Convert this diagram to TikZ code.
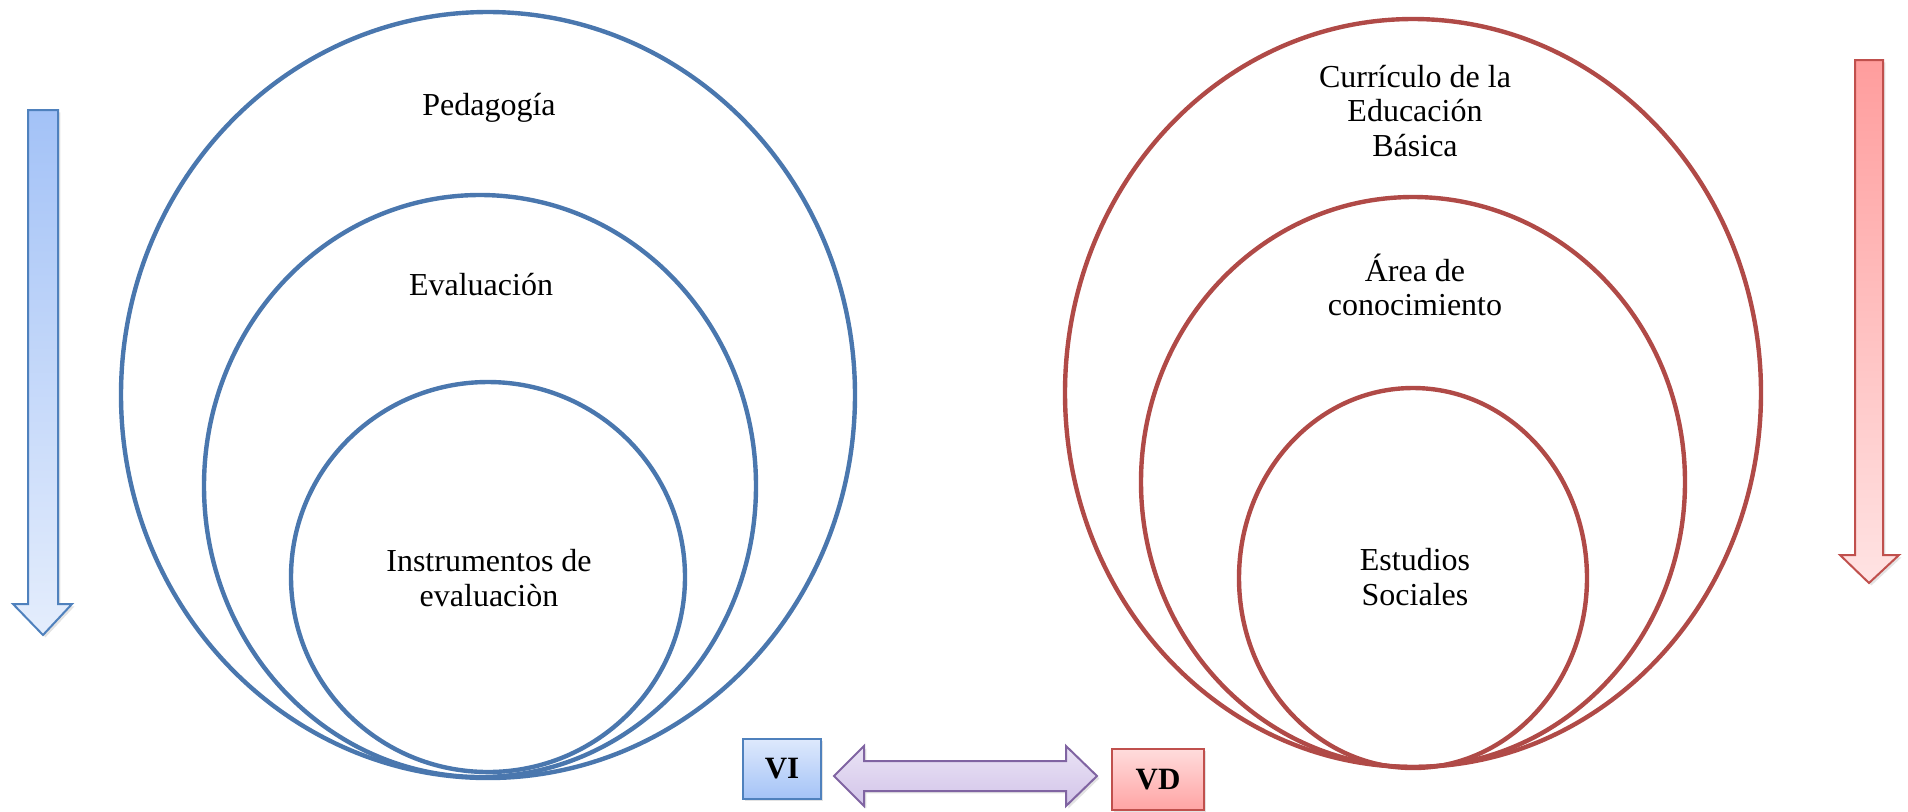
\documentclass[tikz,border=0pt]{standalone}
\usepackage{fontspec}
\setmainfont{Liberation Serif}
\usetikzlibrary{shapes.geometric,shadows}
\definecolor{bline}{RGB}{74,119,174}
\definecolor{rline}{RGB}{176,74,71}
\definecolor{bborder}{RGB}{79,129,189}
\definecolor{rborder}{RGB}{192,80,77}
\definecolor{pborder}{RGB}{128,100,162}
\begin{document}
\begin{tikzpicture}[x=0.5pt,y=-0.5pt,
  ring/.style={ellipse,draw,line width=2.2pt,inner sep=0pt,fill=none},
  bring/.style={ring,draw=bline},
  rring/.style={ring,draw=rline},
  lbl/.style={align=center,inner sep=0pt,font=\fontsize{16}{17.25}\selectfont},
  varbox/.style={draw,line width=0.9pt,inner sep=0pt,font=\bfseries\fontsize{15.5}{18}\selectfont},
  shad/.style={drop shadow={opacity=0.22,shadow xshift=1.2pt,shadow yshift=-1.2pt}},
]
\useasboundingbox (0,0) rectangle (1908,811);
% blue nested ellipses
\node[bring,minimum width=367pt,minimum height=383pt] (bouter) at (488,395) {};
\node[bring,minimum width=276pt,minimum height=291pt] (bmid) at (480,486) {};
\node[bring,minimum width=197pt,minimum height=195pt] (binner) at (488,577) {};
% red nested ellipses
\node[rring,minimum width=348pt,minimum height=374pt] (router) at (1413,393) {};
\node[rring,minimum width=272pt,minimum height=285pt] (rmid) at (1413,482) {};
\node[rring,minimum width=174pt,minimum height=190pt] (rinner) at (1413,578) {};
% labels
\node[lbl] (tped) at (489,108) {Pedagogía};
\node[lbl] (teval) at (481,285) {Evaluación};
\node[lbl] (tinst) at (489,578) {Instrumentos de\\evaluaciòn};
\node[lbl] (tcurr) at (1415,111) {Currículo de la\\Educación\\Básica};
\node[lbl] (tarea) at (1415,285) {Área de\\conocimiento};
\node[lbl] (test) at (1415,577) {Estudios\\Sociales};
% side arrows
\path[shad,draw=bborder,line width=1pt,top color={rgb,255:red,163;green,194;blue,247},bottom color={rgb,255:red,228;green,237;blue,252}]
  (28,110) -- (58,110) -- (58,604) -- (72,604) -- (43,635) -- (13,604) -- (28,604) -- cycle;
\path[shad,draw=rborder,line width=1pt,top color={rgb,255:red,255;green,157;blue,157},bottom color={rgb,255:red,255;green,227;blue,227}]
  (1855,60) -- (1883,60) -- (1883,555) -- (1899,555) -- (1869,583) -- (1840,555) -- (1855,555) -- cycle;
% VI / VD boxes
\node[varbox,shad,draw=bborder,top color={rgb,255:red,222;green,233;blue,252},bottom color={rgb,255:red,164;green,195;blue,247},minimum width=39pt,minimum height=30pt] (vi) at (782,769) {VI};
\node[varbox,shad,draw=rborder,top color={rgb,255:red,255;green,220;blue,220},bottom color={rgb,255:red,255;green,164;blue,164},minimum width=46pt,minimum height=30.5pt] (vd) at (1158,779.5) {VD};
% double arrow
\path[shad,draw=pborder,line width=1pt,top color={rgb,255:red,234;green,227;blue,245},bottom color={rgb,255:red,210;green,196;blue,233}]
  (834,776) -- (864,746) -- (864,761) -- (1066,761) -- (1066,746) -- (1097,776)
  -- (1066,806) -- (1066,791) -- (864,791) -- (864,806) -- cycle;
\end{tikzpicture}
\end{document}
